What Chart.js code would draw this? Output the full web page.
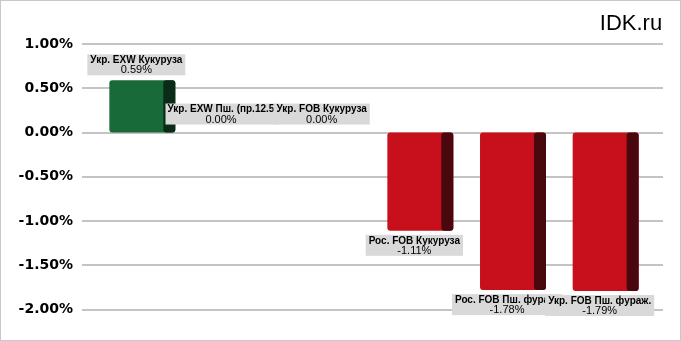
<!DOCTYPE html>
<html>
<head>
<meta charset="utf-8">
<script src="https://cdn.jsdelivr.net/npm/chart.js@4.4.0/dist/chart.umd.min.js"></script>
<style>
html,body{margin:0;padding:0;background:#fff;}
#wrap{position:relative;width:681px;height:341px;}
</style>
</head>
<body>
<div id="wrap"><canvas id="c" width="681" height="341"></canvas></div>
<script>
const categories = ["Укр. EXW Кукуруза", "Укр. EXW Пш. (пр.12.5%)", "Укр. FOB Кукуруза", "Рос. FOB Кукуруза", "Рос. FOB Пш. фураж.", "Укр. FOB Пш. фураж."];
const changes = [0.59, 0.00, 0.00, -1.11, -1.78, -1.79];
const valueLabels = ["0.59%", "0.00%", "0.00%", "-1.11%", "-1.78%", "-1.79%"];
const yTicks = [1.0, 0.5, 0.0, -0.5, -1.0, -1.5, -2.0];
const brand = "IDK.ru";

const FRONT_UP = "#186a38", SIDE_UP = "#0a2c17";
const FRONT_DN = "#c8101c", SIDE_DN = "#48080d";
const SIDE_W = 12;

const decor = {
  id: 'decor',
  beforeDatasetsDraw(chart) {
    const ctx = chart.ctx;
    const y = chart.scales.y;
    ctx.save();
    ctx.strokeStyle = '#b0b0b0';
    ctx.lineWidth = 1.5;
    yTicks.forEach(v => {
      const py = Math.round(y.getPixelForValue(v));
      ctx.beginPath();
      ctx.moveTo(82, py);
      ctx.lineTo(663, py);
      ctx.stroke();
    });
    ctx.restore();
  },
  afterDatasetsDraw(chart) {
    const ctx = chart.ctx;
    const meta = chart.getDatasetMeta(0);
    const y = chart.scales.y;
    meta.data.forEach((bar, i) => {
      const v = changes[i];
      if (v === 0) return;
      const right = bar.x + bar.width / 2;
      const top = Math.min(bar.y, bar.base), bottom = Math.max(bar.y, bar.base);
      ctx.save();
      ctx.fillStyle = v > 0 ? SIDE_UP : SIDE_DN;
      ctx.beginPath();
      ctx.roundRect(right - SIDE_W, top, SIDE_W, bottom - top, 3);
      ctx.fill();
      ctx.restore();
    });
    const NAME_FONT = 'bold 10px "Liberation Sans", Arial, sans-serif';
    const VAL_FONT = '11px "Liberation Sans", Arial, sans-serif';
    const MAXW = 111;
    ctx.save();
    meta.data.forEach((bar, i) => {
      const v = changes[i];
      const cx = bar.x - SIDE_W / 2;
      const name = categories[i];
      ctx.font = NAME_FONT;
      const tw = ctx.measureText(name).width;
      ctx.font = VAL_FONT;
      const vw = ctx.measureText(valueLabels[i]).width;
      const overflow = tw + 6 > MAXW;
      const w = Math.min(Math.max(tw, vw) + 6, MAXW);
      const h = 21;
      let top;
      const zero = y.getPixelForValue(0);
      if (v > 0) top = bar.y - 5 - h;
      else if (v < 0) top = bar.y + 4;
      else top = zero - 8 - h;
      const bcx = overflow ? cx - 8 : cx;
      const left = bcx - w / 2;
      ctx.fillStyle = '#d9d9d9';
      ctx.fillRect(left, top, w, h);
      ctx.save();
      ctx.beginPath();
      ctx.rect(left, top, w, h);
      ctx.clip();
      ctx.fillStyle = '#000';
      ctx.textBaseline = 'middle';
      ctx.font = NAME_FONT;
      if (overflow) { ctx.textAlign = 'left'; ctx.fillText(name, left + 2, top + 6); }
      else { ctx.textAlign = 'center'; ctx.fillText(name, bcx, top + 6); }
      ctx.font = VAL_FONT;
      ctx.textAlign = 'center';
      ctx.fillText(valueLabels[i], bcx, top + 16);
      ctx.restore();
    });
    ctx.restore();
  },
  afterDraw(chart) {
    const ctx = chart.ctx;
    ctx.save();
    ctx.strokeStyle = '#c8c8c8';
    ctx.lineWidth = 1;
    ctx.strokeRect(0.5, 0.5, 680, 340);
    ctx.fillStyle = '#000';
    ctx.font = '22px "Liberation Sans", Arial, sans-serif';
    ctx.textAlign = 'center';
    ctx.textBaseline = 'middle';
    ctx.fillText(brand, 631, 24);
    ctx.restore();
  }
};

new Chart(document.getElementById('c'), {
  type: 'bar',
  data: {
    labels: categories,
    datasets: [{
      data: changes,
      backgroundColor: changes.map(v => v >= 0 ? FRONT_UP : FRONT_DN),
      borderRadius: 3,
      borderSkipped: false,
      barPercentage: 1,
      categoryPercentage: 66 / 92.7
    }]
  },
  options: {
    responsive: false,
    animation: false,
    layout: { padding: { left: 0, top: 44, right: 29, bottom: 26 } },
    plugins: { legend: { display: false }, tooltip: { enabled: false } },
    scales: {
      x: { display: false, offset: true },
      y: {
        min: -2, max: 1,
        afterFit(s) { s.width = 96; },
        afterBuildTicks(s) { s.ticks = yTicks.map(v => ({ value: v })); },
        grid: { display: false, drawTicks: false },
        border: { display: false },
        ticks: {
          padding: 23,
          color: '#000',
          font: { family: '"DejaVu Sans", sans-serif', weight: 'bold', size: 14 },
          callback: v => v.toFixed(2) + '%'
        }
      }
    }
  },
  plugins: [decor]
});
</script>
</body>
</html>
